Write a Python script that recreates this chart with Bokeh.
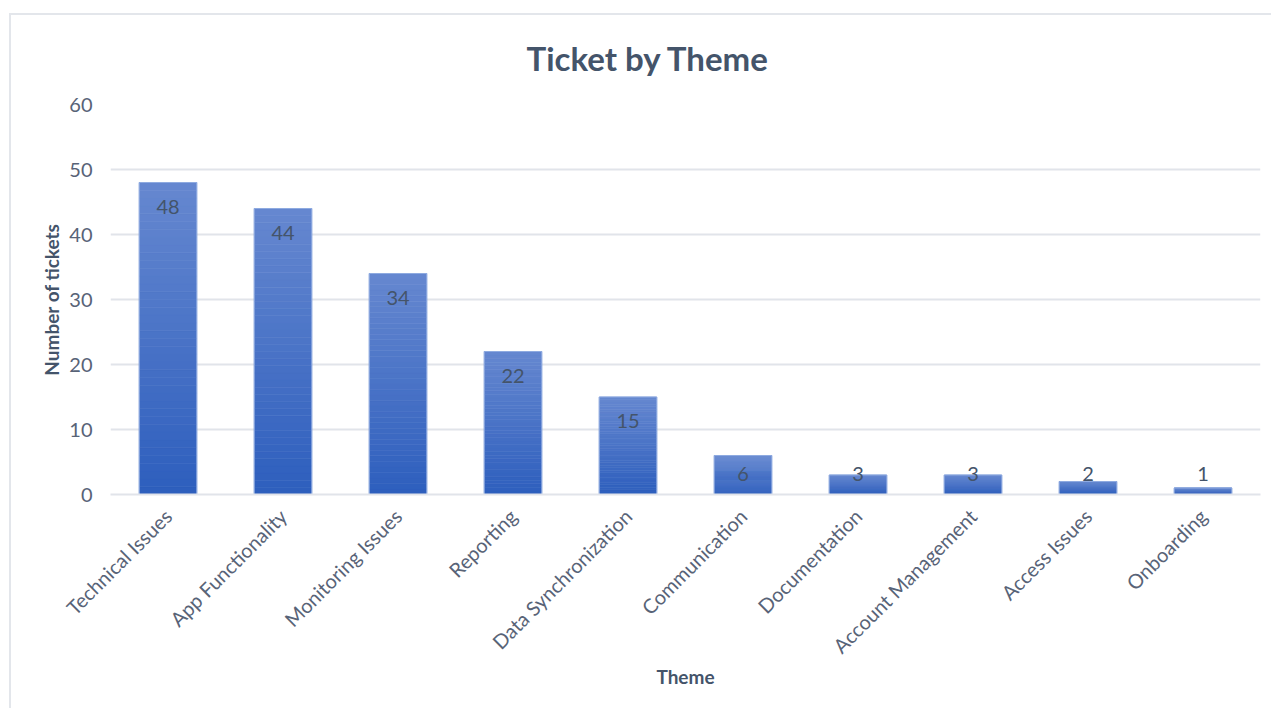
from bokeh.plotting import figure
from bokeh.models import ColumnDataSource, FixedTicker, FactorRange, Range1d
from bokeh.embed import file_html
from bokeh.resources import INLINE
from bokeh.core.properties import value

themes = ["Technical Issues", "App Functionality", "Monitoring Issues", "Reporting",
          "Data Synchronization", "Communication", "Documentation",
          "Account Management", "Access Issues", "Onboarding"]
tickets = [48, 44, 34, 22, 15, 6, 3, 3, 2, 1]
y_ticks = [0, 10, 20, 30, 40, 50, 60]
title_text = "Ticket by Theme"
x_title = "Theme"
y_title = "Number of tickets"

FONT = "Lato"
TEXT = "#44546a"
TICK = "#586377"
GRID = "#e1e4ea"
BORDER = "#e3e6eb"
TOP_C = (0x66, 0x88, 0xd0)
BOT_C = (0x2d, 0x5e, 0xbd)

p = figure(x_range=FactorRange(*themes, range_padding=0), y_range=Range1d(0, 60),
           width=1271, height=708, output_backend="svg", toolbar_location=None,
           min_border_left=110, min_border_right=11, min_border_top=104,
           min_border_bottom=214)
p.styles = {
    "background": (f"linear-gradient({BORDER},{BORDER}) 9px 13px / 2px 100% no-repeat, "
                   f"linear-gradient({BORDER},{BORDER}) 9px 13px / 100% 2px no-repeat, white"),
}
p.outline_line_color = None
p.background_fill_color = "white"
p.border_fill_color = None

# gradient bars built from slices of each bar's own height
N = 40
xs, tops, bots, cols = [], [], [], []
for t, v in zip(themes, tickets):
    for k in range(N):
        f = (k + 0.5) / N
        c = tuple(int(round(BOT_C[i] + (TOP_C[i] - BOT_C[i]) * f)) for i in range(3))
        xs.append(t)
        bots.append(v * k / N)
        tops.append(v * (k + 1) / N)
        cols.append("#%02x%02x%02x" % c)
seg = ColumnDataSource(dict(x=xs, top=tops, bottom=bots, color=cols))
p.vbar(x="x", top="top", bottom="bottom", width=0.5, source=seg,
       fill_color="color", line_color="color", line_width=0.6)

src = ColumnDataSource(dict(x=themes, top=tickets,
                            ly=[max(v - 3.7, 3.15) for v in tickets],
                            txt=[str(v) for v in tickets]))
p.vbar(x="x", top="top", width=0.5, source=src, fill_color=None,
       line_color="#8eaae0", line_width=1)
p.text(x="x", y="ly", text="txt", source=src, text_align="center",
       text_baseline="middle", text_font=value(FONT), text_font_size="20px",
       text_color="#44546a")

p.title.text = title_text
p.title.align = "left"
p.title.offset = 416
p.title.text_font = FONT
p.title.text_font_size = "33px"
p.title.text_font_style = "bold"
p.title.text_color = TEXT
p.title.standoff = 53

p.yaxis.ticker = FixedTicker(ticks=y_ticks)
p.yaxis.axis_line_color = None
p.yaxis.major_tick_line_color = None
p.yaxis.minor_tick_line_color = None
p.yaxis.major_label_text_font = FONT
p.yaxis.major_label_text_font_size = "20px"
p.yaxis.major_label_text_color = TICK
p.yaxis.major_label_standoff = 12
p.yaxis.axis_label = y_title
p.yaxis.axis_label_text_font = FONT
p.yaxis.axis_label_text_font_size = "19px"
p.yaxis.axis_label_text_font_style = "bold"
p.yaxis.axis_label_text_color = TEXT
p.yaxis.axis_label_standoff = 3

p.xaxis.axis_line_color = GRID
p.xaxis.axis_line_width = 2
p.xaxis.major_tick_line_color = None
p.xaxis.minor_tick_line_color = None
p.xaxis.major_label_orientation = 0.785398
p.xaxis.major_label_text_font = FONT
p.xaxis.major_label_text_font_size = "20px"
p.xaxis.major_label_text_color = TICK
p.xaxis.major_label_standoff = 12
p.xaxis.axis_label = x_title
p.xaxis.axis_label_text_font = FONT
p.xaxis.axis_label_text_font_size = "19px"
p.xaxis.axis_label_text_font_style = "bold"
p.xaxis.axis_label_text_color = TEXT
p.xaxis.axis_label_standoff = -4

p.xgrid.grid_line_color = None
p.ygrid.grid_line_color = GRID
p.ygrid.grid_line_width = 2

open("out.html", "w").write(file_html(p, INLINE))
